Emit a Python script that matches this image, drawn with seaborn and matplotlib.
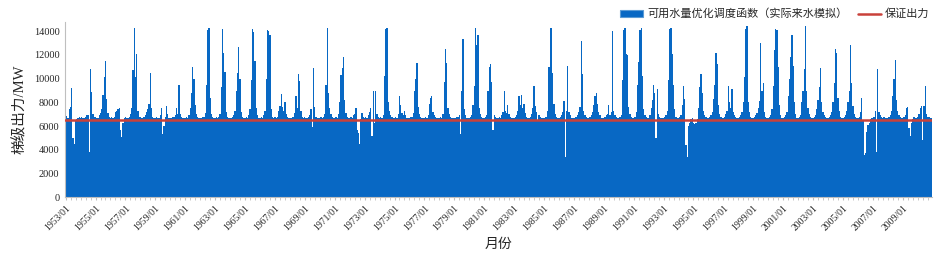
import numpy as np
import pandas as pd
import matplotlib
matplotlib.use('Agg')
import matplotlib.pyplot as plt
from matplotlib.patches import Patch
from matplotlib.lines import Line2D
import seaborn as sns

# monthly cascade output (MW), Jan..Dec per row
mw_1950s = [
    [6900, 6850, 6700, 7400, 7600, 9200, 5000, 4500, 6400, 6600, 6700, 6800],  # 1953
    [6700, 6800, 6700, 6700, 6800, 6900, 6900, 3800, 10800, 8900, 7000, 6800],  # 1954
    [6800, 6700, 6700, 6900, 7100, 7400, 8600, 10100, 11500, 8300, 7100, 6800],  # 1955
    [6700, 6800, 6700, 6800, 7200, 7300, 7400, 7500, 5700, 5100, 6300, 6700],  # 1956
    [6800, 6700, 6700, 6800, 7000, 7500, 10700, 14300, 10100, 12100, 7300, 6800],  # 1957
    [6800, 6700, 6700, 6800, 6900, 7200, 7400, 7900, 10500, 7500, 6800, 6700],  # 1958
    [6700, 6800, 6700, 6700, 6900, 7500, 5300, 6000, 6800, 7700, 7000, 6700],  # 1959
]
mw_1960s = [
    [6700, 6700, 6800, 6800, 6900, 7500, 7000, 9500, 7000, 6800, 6700, 6700],
    [6700, 6800, 6700, 6900, 7500, 8800, 11000, 10000, 7800, 7000, 6800, 6700],
    [6700, 6700, 6800, 6800, 7100, 9500, 14100, 14300, 8400, 7000, 6800, 6700],
    [6700, 6800, 6700, 6800, 7000, 9300, 14200, 12200, 10600, 7200, 6800, 6700],
    [6700, 6700, 6800, 6900, 7300, 9000, 10500, 12700, 10000, 7200, 6800, 6700],
    [6700, 6800, 6700, 6900, 7400, 9900, 14200, 13900, 11500, 7500, 6900, 6700],
    [6700, 6800, 6700, 6900, 7300, 10000, 14100, 14000, 13700, 7400, 6800, 6700],
    [6800, 6700, 6800, 7300, 7700, 8700, 7600, 7300, 8000, 7000, 6800, 6700],
    [6700, 6700, 6800, 6800, 7100, 8500, 7500, 10400, 9800, 7300, 6800, 6700],
    [6800, 6700, 6700, 6800, 6900, 7400, 5900, 10900, 7600, 6800, 6700, 6700],
]
mw_1970s = [
    [6700, 6800, 6700, 6800, 7000, 9500, 14300, 8800, 7500, 7000, 6800, 6700],
    [6700, 6800, 6700, 7000, 8000, 10300, 10900, 11800, 8200, 7100, 6800, 6700],
    [6700, 6800, 6700, 6900, 7000, 7500, 5700, 5400, 4500, 6600, 7100, 6800],
    [6700, 6800, 6700, 6900, 7200, 7500, 5200, 9000, 6300, 9000, 7000, 6800],
    [6700, 6800, 6700, 6900, 10200, 14200, 14300, 8000, 7300, 6900, 6800, 6700],
    [6700, 6800, 6700, 7000, 8500, 7800, 7100, 6900, 7300, 6900, 6700, 6700],
    [6700, 6800, 6800, 7100, 9000, 10000, 11300, 7600, 7000, 6800, 6700, 6700],
    [6700, 6800, 6700, 6900, 7900, 8400, 8500, 7200, 6900, 6800, 6700, 6700],
    [6700, 6800, 6700, 7000, 9700, 12500, 11300, 7500, 7000, 6800, 6700, 6700],
    [6700, 6700, 6800, 6800, 6900, 5300, 9000, 13300, 7400, 6900, 6700, 6700],
]
mw_1980s = [
    [6700, 6800, 6900, 7800, 9400, 14300, 12800, 13700, 7500, 7000, 6800, 6700],
    [6700, 6800, 6900, 9000, 11000, 11200, 9700, 5700, 6900, 6800, 6700, 6700],
    [6800, 6700, 6900, 7200, 9000, 7300, 7100, 7800, 7000, 6800, 6700, 6700],
    [6700, 6800, 6900, 7300, 8500, 7800, 8600, 7500, 7900, 7100, 6800, 6700],
    [6700, 6800, 7000, 7500, 9400, 7700, 7200, 6400, 6900, 6800, 6700, 6700],
    [6700, 6800, 6800, 7300, 11000, 14300, 14300, 10500, 7900, 7000, 6800, 6700],
    [6700, 6800, 6900, 7200, 8100, 3400, 7300, 11100, 7200, 6900, 6700, 6700],
    [6700, 6800, 6800, 6900, 7200, 7600, 13200, 10400, 7300, 6900, 6800, 6700],
    [6700, 6800, 6900, 7200, 7800, 8500, 8800, 7900, 7200, 6900, 6700, 6700],
    [6700, 6800, 6900, 7000, 7800, 6900, 7200, 14000, 7300, 6900, 6800, 6700],
]
mw_1990s = [
    [6700, 6800, 6900, 9900, 14100, 14300, 12100, 12000, 7600, 7000, 6800, 6700],
    [6700, 6800, 7200, 9500, 11400, 14100, 14300, 10200, 7400, 6900, 6800, 6700],
    [6700, 6900, 7500, 8200, 9500, 8800, 5000, 9100, 7000, 6800, 6700, 6700],
    [6700, 6800, 6900, 7300, 9900, 14200, 14300, 12100, 9500, 7400, 6800, 6700],
    [6700, 6800, 6900, 7800, 9400, 8300, 4400, 3400, 6000, 6300, 6600, 6700],
    [6300, 6200, 6300, 6600, 7500, 9300, 10400, 8800, 7300, 6900, 6800, 6700],
    [6700, 6800, 6900, 7200, 8300, 9500, 12200, 11200, 7800, 7000, 6800, 6700],
    [6700, 6800, 7000, 7300, 9400, 8000, 7500, 9100, 7200, 6900, 6800, 6700],
    [6700, 6800, 6900, 7200, 8000, 10100, 14200, 14400, 8000, 7200, 6800, 6700],
    [6700, 6800, 6900, 7100, 7500, 8100, 13000, 9000, 9600, 7200, 6800, 6700],
]
mw_2000s = [
    [6700, 6800, 6900, 7400, 9400, 12400, 14200, 14100, 11000, 7800, 6900, 6700],
    [6700, 6800, 6900, 7200, 8500, 10000, 11800, 13700, 11100, 8000, 7000, 6700],
    [6700, 6800, 6900, 8000, 9000, 10800, 14400, 9000, 7500, 7000, 6800, 6700],
    [6700, 6800, 6900, 7400, 8200, 9300, 10900, 8000, 7200, 6900, 6800, 6700],
    [6700, 6800, 6900, 7200, 8000, 9600, 12500, 12200, 8400, 7300, 6800, 6700],
    [6700, 6800, 6900, 7300, 8000, 9000, 12800, 9600, 7700, 7000, 6800, 6700],
    [6700, 6800, 7200, 8400, 6500, 3600, 3700, 5500, 6100, 6300, 6600, 6700],
    [6700, 6800, 7300, 3800, 10800, 7200, 6900, 6800, 6700, 6800, 6700, 6700],
    [6700, 6800, 6900, 7300, 8500, 10000, 11600, 8200, 7300, 6900, 6800, 6700],
    [6700, 6800, 6900, 7500, 7600, 5800, 5200, 6300, 6600, 6800, 6700, 6700],
]
mw_2010 = [
    [6800, 7000, 7500, 7700, 4800, 7700, 9400, 7000, 6800, 6800, 6700, 6700],
]

guarantee_mw = 6500  # 保证出力
yticks = [0, 2000, 4000, 6000, 8000, 10000, 12000, 14000]

bar_name = '可用水量优化调度函数（实际来水模拟）'
line_name = '保证出力'

BAR_COLOR = '#0868C4'
LINE_COLOR = '#C9413A'

output_mw = [v for block in (mw_1950s, mw_1960s, mw_1970s, mw_1980s, mw_1990s, mw_2000s, mw_2010)
             for row in block for v in row]
months = pd.period_range('1953-01', periods=len(output_mw), freq='M').strftime('%Y/%m')
df = pd.DataFrame({'month': months, 'output': output_mw})

sns.set_style('white')
plt.rcParams['font.family'] = ['Liberation Serif', 'Noto Sans CJK SC']

fig = plt.figure(figsize=(9.34, 2.54), dpi=100)
ax = fig.add_axes([0.0696, 0.2232, 0.9283, 0.6914])

sns.barplot(data=df, x='month', y='output', color=BAR_COLOR, saturation=1,
            width=1.0, linewidth=0, errorbar=None, ax=ax)
ax.axhline(guarantee_mw, color=LINE_COLOR, lw=1.8, zorder=5)

n = len(df)
ax.set_xlim(-0.5, n - 0.5)
ax.set_ylim(0, 14800)
ax.set_yticks(yticks)
ax.set_yticklabels([str(t) for t in yticks], fontsize=7.5)

tick_pos = list(range(0, n, 24))
ax.set_xticks(tick_pos)
ax.set_xticklabels([months[i] for i in tick_pos], rotation=45, ha='right',
                   rotation_mode='anchor', fontsize=7)
ax.set_xticks(list(range(0, n, 4)), minor=True)
ax.tick_params(axis='x', which='both', length=2.5, color='#BFBFBF', bottom=True, pad=2)
ax.tick_params(axis='y', length=0, pad=4)

for s in ['top', 'right']:
    ax.spines[s].set_visible(False)
for s in ['left', 'bottom']:
    ax.spines[s].set_color('#BFBFBF')
    ax.spines[s].set_linewidth(0.8)

ax.set_ylabel('梯级出力/MW', fontsize=10.5, labelpad=5)
ax.set_xlabel('月份', fontsize=10, labelpad=4)

handles = [Patch(facecolor=BAR_COLOR, edgecolor='#5B9BD5', linewidth=0.8),
           Line2D([0], [0], color=LINE_COLOR, lw=1.8)]
fig.legend(handles, [bar_name, line_name], loc='center right', bbox_to_anchor=(1.006, 0.945),
           ncol=2, frameon=False, fontsize=8, handlelength=2.0, handleheight=0.6,
           columnspacing=1.0, handletextpad=0.4)

fig.savefig('out.png', dpi=100)
